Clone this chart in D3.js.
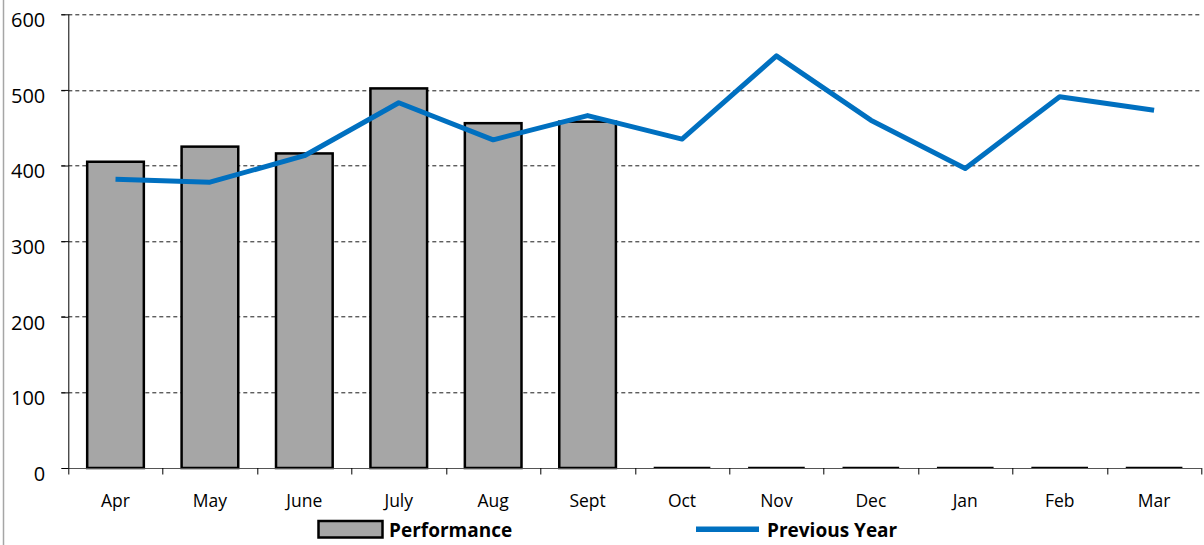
<!DOCTYPE html>
<html>
<head>
<meta charset="utf-8">
<script src="https://cdn.jsdelivr.net/npm/d3@7"></script>
<style>
	body { margin: 0; background: #fff; }
	svg { display: block; font-family: "Open Sans", sans-serif; }
</style>
</head>
<body>
<div id="chart"></div>
<script>
// chart values
var months = ["Apr", "May", "June", "July", "Aug", "Sept", "Oct", "Nov", "Dec", "Jan", "Feb", "Mar"];
var performance = [405, 425, 416, 502, 456, 458, 0, 0, 0, 0, 0, 0];
var previousYear = [382, 378, 413, 483, 434, 466, 435, 545, 460, 396, 491, 473];
var yTicks = [0, 100, 200, 300, 400, 500, 600];

var W = 1204, H = 545;
var margin = {top: 14.3, right: 2.7, bottom: 77, left: 68.3};
var width = W - margin.left - margin.right,
	height = H - margin.top - margin.bottom;

var svgRoot = d3.select("#chart")
	.append("svg")
	.attr("width", W)
	.attr("height", H);

// chart area left border
svgRoot.append("line")
	.attr("x1", 3.5).attr("x2", 3.5)
	.attr("y1", 0).attr("y2", H)
	.attr("stroke", "#a6a6a6")
	.attr("stroke-width", 1.5);

var svg = svgRoot.append("g")
	.attr("transform", "translate(" + margin.left + "," + margin.top + ")");

var x = d3.scaleBand()
	.domain(months)
	.range([0, width])
	.paddingInner(0.4)
	.paddingOuter(0.2);

var xStep = d3.scalePoint()
	.domain(d3.range(months.length + 1))
	.range([0, width]);

var y = d3.scaleLinear()
	.domain([0, 600])
	.range([height, 0]);

// dashed gridlines
svg.selectAll(".grid")
	.data(yTicks.filter(function(d){ return d > 0; }))
	.enter()
	.append("line")
	.attr("class", "grid")
	.attr("x1", -7)
	.attr("x2", width)
	.attr("y1", function(d){ return Math.round(y(d)) + 0.5; })
	.attr("y2", function(d){ return Math.round(y(d)) + 0.5; })
	.attr("stroke", "#1a1a1a")
	.attr("stroke-width", 1)
	.attr("stroke-dasharray", "4,3");

// bars
var barData = months.map(function(m, i){ return {month: m, value: performance[i]}; });

svg.selectAll(".bar")
	.data(barData.filter(function(d){ return d.value > 0; }))
	.enter()
	.append("rect")
	.attr("class", "bar")
	.attr("x", function(d){ return x(d.month); })
	.attr("width", x.bandwidth())
	.attr("y", function(d){ return y(d.value); })
	.attr("height", function(d){ return height - y(d.value); })
	.attr("fill", "#a6a6a6")
	.attr("stroke", "#000")
	.attr("stroke-width", 2.5);

// zero-height bars show only as a flat outline
svg.selectAll(".zerobar")
	.data(barData.filter(function(d){ return d.value == 0; }))
	.enter()
	.append("line")
	.attr("class", "zerobar")
	.attr("x1", function(d){ return x(d.month); })
	.attr("x2", function(d){ return x(d.month) + x.bandwidth(); })
	.attr("y1", y(0) - 0.5)
	.attr("y2", y(0) - 0.5)
	.attr("stroke", "#000")
	.attr("stroke-width", 1.5);

// axes
var xAxisG = svg.append("g")
	.attr("transform", "translate(0," + height + ")");

xAxisG.append("line")
	.attr("x1", 0).attr("x2", width)
	.attr("y1", 0.5).attr("y2", 0.5)
	.attr("stroke", "#555")
	.attr("stroke-width", 1);

xAxisG.selectAll(".tick")
	.data(d3.range(months.length + 1))
	.enter()
	.append("line")
	.attr("x1", function(d){ return Math.round(xStep(d)) + 0.5; })
	.attr("x2", function(d){ return Math.round(xStep(d)) + 0.5; })
	.attr("y1", 0)
	.attr("y2", 6.5)
	.attr("stroke", "#000");

xAxisG.selectAll(".mlabel")
	.data(months)
	.enter()
	.append("text")
	.attr("class", "mlabel")
	.attr("x", function(d){ return x(d) + x.bandwidth() / 2; })
	.attr("y", 38.5)
	.attr("text-anchor", "middle")
	.style("font-size", "17.5px")
	.attr("fill", "#000")
	.text(function(d){ return d; });

var yAxisG = svg.append("g")
	.call(d3.axisLeft(y).tickValues(yTicks).tickSize(7).tickPadding(16));

yAxisG.select(".domain").remove();
yAxisG.append("line")
	.attr("x1", 0.5).attr("x2", 0.5)
	.attr("y1", 0).attr("y2", height)
	.attr("stroke", "#000");

yAxisG.selectAll(".tick line").attr("stroke", "#000");
yAxisG.selectAll(".tick text")
	.attr("fill", "#000")
	.attr("dy", "0.62em")
	.style("font-size", "20px")
	.style("font-family", "'Open Sans', sans-serif");

// previous year line
var line = d3.line()
	.x(function(d, i){ return x(months[i]) + x.bandwidth() / 2; })
	.y(function(d){ return y(d); });

svg.append("path")
	.datum(previousYear)
	.attr("d", line)
	.attr("fill", "none")
	.attr("stroke", "#0070c0")
	.attr("stroke-width", 5)
	.attr("stroke-linejoin", "round");

// legend
var legend = svgRoot.append("g");

legend.append("rect")
	.attr("x", 318.5).attr("y", 521)
	.attr("width", 64).attr("height", 16.5)
	.attr("fill", "#a6a6a6")
	.attr("stroke", "#000")
	.attr("stroke-width", 2.5);

legend.append("text")
	.attr("x", 389).attr("y", 536.5)
	.style("font-size", "19px")
	.style("font-weight", "bold")
	.text("Performance");

legend.append("line")
	.attr("x1", 696).attr("x2", 759)
	.attr("y1", 529.3).attr("y2", 529.3)
	.attr("stroke", "#0070c0")
	.attr("stroke-width", 5.5);

legend.append("text")
	.attr("x", 767).attr("y", 536.5)
	.style("font-size", "19px")
	.style("font-weight", "bold")
	.text("Previous Year");
</script>
</body>
</html>
